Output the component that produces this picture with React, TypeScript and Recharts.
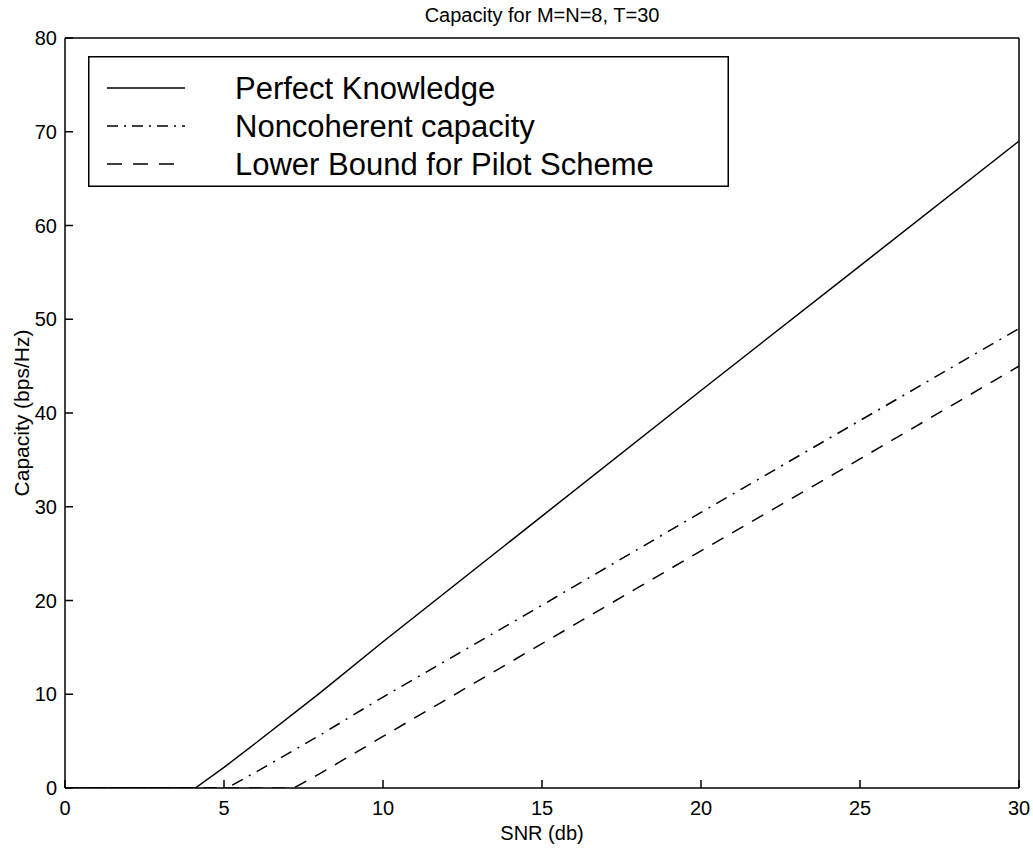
import React from 'react';
import { LineChart, Line, XAxis, YAxis, Legend } from 'recharts';

const chartTitle = 'Capacity for M=N=8, T=30';
const xLabel = 'SNR (db)';
const yLabel = 'Capacity (bps/Hz)';

const xTicks = [0, 5, 10, 15, 20, 25, 30];
const yTicks = [0, 10, 20, 30, 40, 50, 60, 70, 80];

// Perfect Knowledge
const snrPerfect = [0, 4.1, 5, 6, 8, 10, 15, 20, 25, 30];
const capPerfect = [0, 0, 2.2, 4.8, 10.1, 15.6, 29.0, 42.4, 55.7, 69.0];

// Noncoherent capacity
const snrNoncoh = [0, 5.1, 6, 8, 10, 15, 20, 25, 30];
const capNoncoh = [0, 0, 1.7, 5.6, 9.7, 19.5, 29.4, 39.2, 49.0];

// Lower Bound for Pilot Scheme
const snrLower = [0, 7.2, 8, 10, 15, 20, 25, 30];
const capLower = [0, 0, 1.5, 5.5, 15.4, 25.3, 35.1, 45.0];

const legendNames = ['Perfect Knowledge', 'Noncoherent capacity', 'Lower Bound for Pilot Scheme'];
const dashes = ['', '12 7 2 7', '13 10'];
const legendDashes = ['', '11 6 2 6', '15 11'];

const toPoints = (xs: number[], ys: number[]) => xs.map((x, i) => ({ x, y: ys[i] }));

const perfectData = toPoints(snrPerfect, capPerfect);
const noncohData = toPoints(snrNoncoh, capNoncoh);
const lowerData = toPoints(snrLower, capLower);

const FONT = '"Liberation Sans", Arial, Helvetica, sans-serif';
const TICK = 8;
const SW = 1.5;

const LegendBox = () => (
  <svg width={641} height={131} style={{ display: 'block' }}>
    <rect x={0.75} y={0.75} width={639.5} height={129.5} fill="#fff" stroke="#000" strokeWidth={1.5} />
    {legendNames.map((name, i) => {
      const cy = 32 + i * 38;
      return (
        <g key={name}>
          <line x1={19} x2={97} y1={cy} y2={cy} stroke="#000" strokeWidth={SW} strokeDasharray={legendDashes[i] || undefined} />
          <text x={147} y={cy} dominantBaseline="central" fontFamily={FONT} fontSize={31} fill="#000">
            {name}
          </text>
        </g>
      );
    })}
  </svg>
);

const LeftTick = (props: any) => {
  const { x, y, payload } = props;
  return (
    <g>
      <line x1={x} x2={x + TICK} y1={y} y2={y} stroke="#000" strokeWidth={SW} />
      <text x={x - 8} y={y} textAnchor="end" dominantBaseline="central" fontFamily={FONT} fontSize={20} fill="#000">
        {payload.value}
      </text>
    </g>
  );
};

const RightTick = (props: any) => {
  const { x, y } = props;
  return <line x1={x} x2={x - TICK} y1={y} y2={y} stroke="#000" strokeWidth={SW} />;
};

const BottomTick = (props: any) => {
  const { x, y, payload } = props;
  return (
    <g>
      <line x1={x} x2={x} y1={y} y2={y - TICK} stroke="#000" strokeWidth={SW} />
      <text x={x} y={y + 20} textAnchor="middle" dominantBaseline="central" fontFamily={FONT} fontSize={20} fill="#000">
        {payload.value}
      </text>
    </g>
  );
};

const TopTick = (props: any) => {
  const { x, y } = props;
  return <line x1={x} x2={x} y1={y} y2={y + TICK} stroke="#000" strokeWidth={SW} />;
};

export default function App() {
  return (
    <div style={{ position: 'absolute', left: 0, top: 0, width: 1033, height: 848, background: '#fff' }}>
      <LineChart width={1033} height={848} margin={{ top: 37, right: 13, bottom: 0, left: 0 }}>
        <XAxis
          dataKey="x"
          type="number"
          domain={[0, 30]}
          ticks={xTicks}
          allowDataOverflow
          height={60}
          axisLine={{ stroke: '#000', strokeWidth: SW }}
          tickLine={false}
          tickSize={0}
          tickMargin={0}
          tick={BottomTick}
          label={{
            content: () => (
              <text x={542} y={833} textAnchor="middle" dominantBaseline="central" fontFamily={FONT} fontSize={20} fill="#000">
                {xLabel}
              </text>
            ),
          }}
        />
        <XAxis
          xAxisId="top"
          dataKey="x"
          type="number"
          orientation="top"
          domain={[0, 30]}
          ticks={xTicks}
          height={1}
          axisLine={{ stroke: '#000', strokeWidth: SW }}
          tickLine={false}
          tickSize={0}
          tickMargin={0}
          tick={TopTick}
          label={{
            content: () => (
              <text x={542} y={15} textAnchor="middle" dominantBaseline="central" fontFamily={FONT} fontSize={20} fill="#000">
                {chartTitle}
              </text>
            ),
          }}
        />
        <YAxis
          type="number"
          domain={[0, 80]}
          ticks={yTicks}
          allowDataOverflow
          width={65}
          axisLine={{ stroke: '#000', strokeWidth: SW }}
          tickLine={false}
          tickSize={0}
          tickMargin={0}
          tick={LeftTick}
          label={{
            content: () => (
              <text
                x={21}
                y={413}
                transform="rotate(-90 21 413)"
                textAnchor="middle"
                dominantBaseline="central"
                fontFamily={FONT}
                fontSize={21}
                fill="#000"
              >
                {yLabel}
              </text>
            ),
          }}
        />
        <YAxis
          yAxisId="right"
          type="number"
          orientation="right"
          domain={[0, 80]}
          ticks={yTicks}
          width={1}
          axisLine={{ stroke: '#000', strokeWidth: SW }}
          tickLine={false}
          tickSize={0}
          tickMargin={0}
          tick={RightTick}
        />
        <Legend
          layout="vertical"
          align="center"
          verticalAlign="middle"
          content={() => <LegendBox />}
          wrapperStyle={{ position: 'absolute', left: 88, top: 56, width: 641, height: 131 }}
        />
        <Line data={perfectData} dataKey="y" name={legendNames[0]} stroke="#000" strokeWidth={SW} dot={false} isAnimationActive={false} type="linear" />
        <Line data={noncohData} dataKey="y" name={legendNames[1]} stroke="#000" strokeWidth={SW} strokeDasharray={dashes[1]} dot={false} isAnimationActive={false} type="linear" />
        <Line data={lowerData} dataKey="y" name={legendNames[2]} stroke="#000" strokeWidth={SW} strokeDasharray={dashes[2]} dot={false} isAnimationActive={false} type="linear" />
      </LineChart>
    </div>
  );
}
